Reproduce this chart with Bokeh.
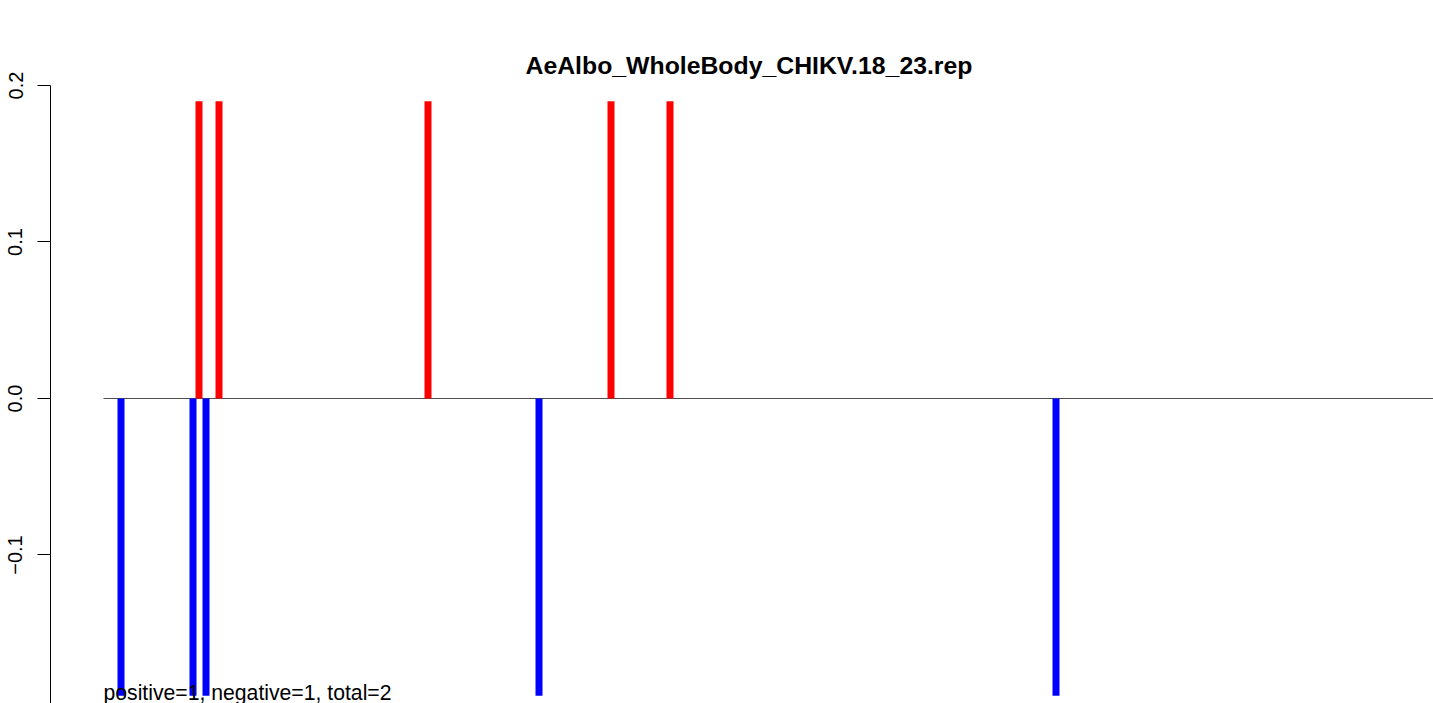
from bokeh.plotting import figure
from bokeh.models import Range1d, FixedTicker
from bokeh.core.properties import value
from bokeh.embed import file_html
from bokeh.resources import INLINE

# ---- data (x in plot position units) ----
title_text = "AeAlbo_WholeBody_CHIKV.18_23.rep"
pos_x = [198.5, 218.5, 427.5, 610.5, 669.5]
pos_val = [0.19, 0.19, 0.19, 0.19, 0.19]
neg_x = [120.5, 192.5, 205.5, 538.5, 1055.5]
neg_val = [-0.19, -0.19, -0.19, -0.19, -0.19]
baseline_x = [103, 1440]
baseline_y = [0.0, 0.0]
y_ticks = [-0.2, -0.1, 0.0, 0.1, 0.2]
y_tick_labels = ["\u22120.2", "\u22120.1", "0.0", "0.1", "0.2"]
summary_text = "positive=1, negative=1, total=2"
summary_x = 103
summary_y = -0.1879

FONT = "Liberation Sans"

p = figure(width=1433, height=703, output_backend="svg", toolbar_location=None,
           x_range=Range1d(50, 1433), y_range=Range1d(-0.1949, 0.2),
           min_border_left=50, min_border_right=0, min_border_top=85, min_border_bottom=0,
           x_axis_location=None)
p.title.text = title_text
p.title.text_font = FONT
p.title.text_font_size = "24.8px"
p.title.text_font_style = "bold"
p.title.text_color = "black"
p.title.align = "left"
p.title.offset = 475
p.title.standoff = 13
p.outline_line_color = None
p.grid.visible = False
p.background_fill_color = "white"
p.border_fill_color = "white"

ax = p.yaxis[0]
ax.ticker = FixedTicker(ticks=y_ticks)
ax.major_label_overrides = {t: l for t, l in zip(y_ticks, y_tick_labels)}
ax.major_label_orientation = "parallel"
ax.major_label_text_font = FONT
ax.major_label_text_font_size = "20px"
ax.major_label_text_color = "black"
ax.major_label_standoff = 15
ax.major_tick_out = 13
ax.major_tick_in = 0
ax.minor_tick_out = 0
ax.minor_tick_in = 0
ax.axis_line_color = "black"
ax.major_tick_line_color = "black"

p.line(baseline_x, baseline_y, line_color="#4d4d4d", line_width=1)
p.vbar(x=pos_x, top=pos_val, bottom=0, width=7, fill_color="#FF0000", line_color=None)
p.vbar(x=neg_x, top=neg_val, bottom=0, width=7, fill_color="#0000FF", line_color=None)
p.text(x=[summary_x], y=[summary_y], text=[summary_text], text_font=value(FONT),
       text_font_size="21.2px", text_color="black", text_baseline="alphabetic", text_align="left")

open("out.html", "w").write(file_html(p, INLINE))
